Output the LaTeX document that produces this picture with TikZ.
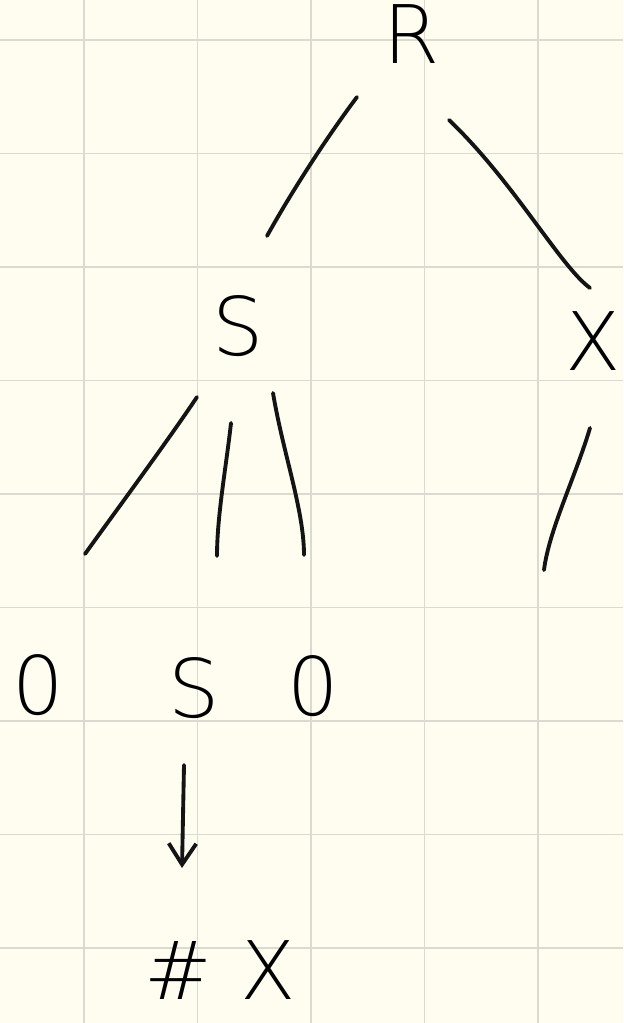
\documentclass[tikz,border=0pt]{standalone}
\usepackage{fontspec}
\newfontfamily\handfont{DejaVu Sans ExtraLight}
\usetikzlibrary{calc,arrows.meta}
\definecolor{paper}{RGB}{254,253,240}
\definecolor{gridline}{RGB}{218,218,208}
\tikzset{
  letter/.style={inner sep=0pt,font=\handfont\fontsize{46}{46}\selectfont},
  stroke/.style={line width=2.2pt,line cap=round,line join=round,black!92},
  >={Straight Barb[length=0.42cm,width=0.55cm]},
}

\begin{document}
\begin{tikzpicture}[x=0.02cm,y=-0.02cm]
  % squared paper
  \fill[paper] (0,0) rectangle (623,1023);
  \useasboundingbox (0,0) rectangle (623,1023);
  \foreach \gx in {84,197.5,311,424.5,538}
    \draw[gridline,line width=0.6pt] (\gx,0) -- (\gx,1023);
  \foreach \gy in {40,153.5,267,380.5,494,607.5,721,834.5,948}
    \draw[gridline,line width=0.6pt] (0,\gy) -- (623,\gy);

  % symbols
  \node[letter] (R)  at (412,34)  {R};
  \node[letter] (S1) at (238,326) {S};
  \node[letter] (X1) at (593,341) {X};
  \node[letter] (L)  at (38,685)  {0};
  \node[letter] (S2) at (194,688) {S};
  \node[letter] (Rt) at (313,686) {0};
  \node[letter] (H)  at (220,970) {\#\hspace{0.35em}X};
  \coordinate (X1end) at (544,570);

  % branches
  \draw[stroke] ($(R)+(-55,63)$) .. controls +(-30,40) and +(25,-45) .. ($(S1)+(29,-90)$);
  \draw[stroke] ($(R)+(37,86)$) .. controls +(65,62) and +(-30,-22) .. ($(X1)+(-3,-53)$);
  \draw[stroke] ($(S1)+(-41,71)$) .. controls +(-30,45) and +(25,-35) .. ($(L)+(47,-131)$);
  \draw[stroke] ($(S1)+(-7,97)$) .. controls +(-5,45) and +(0,-40) .. ($(S2)+(23,-132)$);
  \draw[stroke] ($(S1)+(35,67)$) .. controls +(10,60) and +(0,-45) .. ($(Rt)+(-9,-131)$);
  \draw[stroke] ($(X1)+(-3,87)$) .. controls +(-15,50) and +(5,-40) .. (X1end);
  \draw[stroke,->] ($(S2)+(-10,77)$) -- ($(H)+(-38,-102)$);
\end{tikzpicture}
\end{document}
